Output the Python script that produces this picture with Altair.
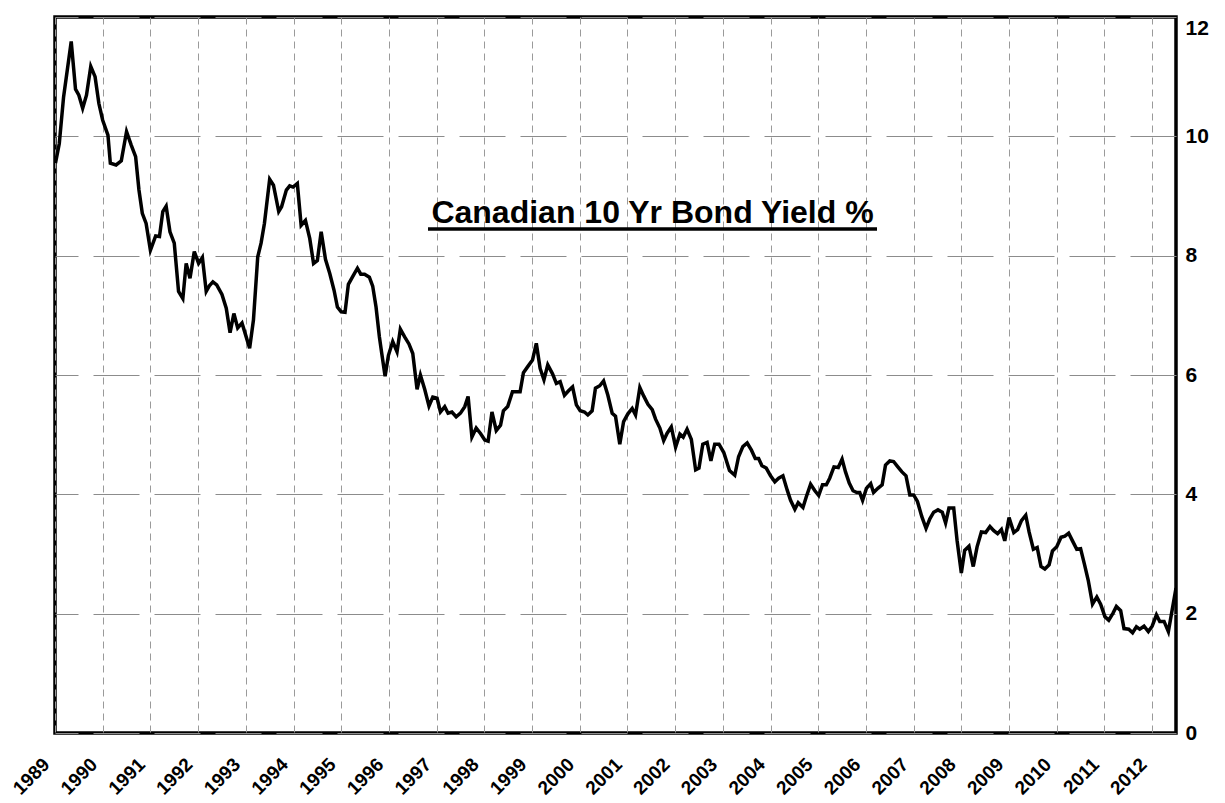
import altair as alt
import pandas as pd

dates = [
    1989.01, 1989.09, 1989.18, 1989.34, 1989.43, 1989.50, 1989.58, 1989.66, 1989.75, 1989.84, 1989.92,
    1990.00, 1990.11, 1990.16, 1990.28, 1990.39, 1990.50, 1990.60, 1990.69, 1990.76, 1990.83, 1990.91,
    1991.00, 1991.11, 1991.19, 1991.26, 1991.33, 1991.41, 1991.50, 1991.59, 1991.68, 1991.75, 1991.83, 1991.92,
    1992.01, 1992.09, 1992.17, 1992.24, 1992.31, 1992.39, 1992.50, 1992.59, 1992.67, 1992.75, 1992.83, 1992.92,
    1993.00, 1993.08, 1993.16, 1993.25, 1993.32, 1993.39, 1993.50, 1993.58, 1993.69, 1993.75, 1993.85, 1993.92, 1993.99,
    1994.08, 1994.16, 1994.25, 1994.34, 1994.42, 1994.50, 1994.58, 1994.67, 1994.76, 1994.85, 1994.92,
    1995.00, 1995.08, 1995.15, 1995.24, 1995.34, 1995.41, 1995.49, 1995.59, 1995.66, 1995.73, 1995.80, 1995.85, 1995.92, 1995.99,
    1996.08, 1996.17, 1996.24, 1996.33, 1996.42, 1996.50, 1996.59, 1996.66, 1996.75, 1996.84, 1996.92,
    1997.01, 1997.08, 1997.17, 1997.24, 1997.32, 1997.41, 1997.50, 1997.59, 1997.66, 1997.74, 1997.83, 1997.92,
    1998.01, 1998.08, 1998.16, 1998.25, 1998.34, 1998.40, 1998.49, 1998.59, 1998.67, 1998.75, 1998.82, 1998.91,
    1999.01, 1999.09, 1999.17, 1999.25, 1999.33, 1999.43, 1999.51, 1999.59, 1999.68, 1999.77, 1999.85, 1999.93,
    2000.01, 2000.10, 2000.17, 2000.26, 2000.33, 2000.42, 2000.50, 2000.59, 2000.68, 2000.75, 2000.84, 2000.92,
    2001.01, 2001.10, 2001.17, 2001.26, 2001.34, 2001.43, 2001.52, 2001.59, 2001.68, 2001.76, 2001.83, 2001.92,
    2002.01, 2002.10, 2002.17, 2002.25, 2002.34, 2002.43, 2002.50, 2002.58, 2002.67, 2002.75, 2002.83, 2002.92,
    2003.02, 2003.14, 2003.25, 2003.33, 2003.42, 2003.51, 2003.60, 2003.68, 2003.75, 2003.82, 2003.91,
    2004.00, 2004.09, 2004.17, 2004.26, 2004.35, 2004.42, 2004.51, 2004.58, 2004.68, 2004.75, 2004.84, 2004.93,
    2005.01, 2005.09, 2005.17, 2005.24, 2005.33, 2005.42, 2005.50, 2005.57, 2005.65, 2005.73, 2005.81, 2005.87, 2005.93,
    2006.01, 2006.10, 2006.16, 2006.25, 2006.34, 2006.41, 2006.50, 2006.58, 2006.66, 2006.75, 2006.84, 2006.92,
    2007.00, 2007.08, 2007.17, 2007.26, 2007.34, 2007.42, 2007.51, 2007.60, 2007.67, 2007.74, 2007.84, 2007.91,
    2008.00, 2008.07, 2008.16, 2008.25, 2008.33, 2008.42, 2008.51, 2008.60, 2008.68, 2008.76, 2008.84, 2008.91,
    2009.00, 2009.10, 2009.18, 2009.26, 2009.35, 2009.42, 2009.51, 2009.59, 2009.67, 2009.75, 2009.84, 2009.91,
    2010.00, 2010.09, 2010.17, 2010.25, 2010.33, 2010.42, 2010.50, 2010.58, 2010.66, 2010.75, 2010.84, 2010.92,
    2011.01, 2011.09, 2011.18, 2011.25, 2011.34, 2011.41, 2011.51, 2011.59, 2011.67, 2011.74, 2011.83, 2011.92,
    2012.00, 2012.09, 2012.16, 2012.25, 2012.34, 2012.50,
]

# Canadian 10-year bond yield, %
yields = [
    9.55, 9.88, 10.66, 11.59, 10.79, 10.69, 10.47, 10.69, 11.17, 11.00, 10.55,
    10.27, 10.02, 9.55, 9.52, 9.59, 10.08, 9.85, 9.66, 9.10, 8.71, 8.54,
    8.09, 8.33, 8.32, 8.74, 8.83, 8.40, 8.21, 7.40, 7.28, 7.87, 7.62, 8.07,
    7.87, 7.97, 7.40, 7.50, 7.56, 7.51, 7.35, 7.12, 6.71, 7.03, 6.79, 6.87,
    6.66, 6.45, 6.92, 7.98, 8.21, 8.54, 9.28, 9.18, 8.74, 8.82, 9.10, 9.17, 9.15,
    9.21, 8.51, 8.59, 8.29, 7.87, 7.92, 8.40, 7.94, 7.70, 7.42, 7.14,
    7.06, 7.05, 7.52, 7.65, 7.79, 7.69, 7.69, 7.64, 7.49, 7.14, 6.64, 6.36, 5.98, 6.33,
    6.56, 6.39, 6.77, 6.64, 6.52, 6.36, 5.76, 6.00, 5.76, 5.48, 5.63,
    5.61, 5.38, 5.47, 5.36, 5.38, 5.30, 5.36, 5.47, 5.64, 4.96, 5.11, 5.02,
    4.91, 4.89, 5.38, 5.07, 5.16, 5.40, 5.47, 5.72, 5.72, 5.72, 6.04, 6.14,
    6.25, 6.53, 6.11, 5.92, 6.17, 6.02, 5.86, 5.89, 5.66, 5.74, 5.80, 5.50,
    5.40, 5.38, 5.33, 5.40, 5.78, 5.82, 5.90, 5.66, 5.36, 5.31, 4.84, 5.22,
    5.35, 5.44, 5.33, 5.79, 5.65, 5.51, 5.42, 5.26, 5.11, 4.90, 5.02, 5.13,
    4.79, 5.01, 4.96, 5.09, 4.92, 4.41, 4.44, 4.84, 4.87, 4.56, 4.84, 4.84,
    4.70, 4.40, 4.32, 4.63, 4.80, 4.86, 4.74, 4.60, 4.60, 4.48, 4.44,
    4.31, 4.21, 4.27, 4.31, 4.07, 3.90, 3.75, 3.86, 3.78, 3.96, 4.17, 4.06,
    3.98, 4.16, 4.16, 4.27, 4.46, 4.45, 4.59, 4.38, 4.19, 4.06, 4.03, 4.03, 3.90,
    4.10, 4.18, 4.03, 4.10, 4.16, 4.49, 4.56, 4.55, 4.47, 4.38, 4.31, 3.99,
    3.99, 3.88, 3.63, 3.43, 3.59, 3.70, 3.74, 3.70, 3.52, 3.77, 3.77, 3.23,
    2.68, 3.06, 3.13, 2.79, 3.12, 3.37, 3.36, 3.46, 3.39, 3.34, 3.41, 3.22,
    3.61, 3.36, 3.41, 3.56, 3.65, 3.37, 3.08, 3.11, 2.79, 2.75, 2.82, 3.05,
    3.12, 3.28, 3.30, 3.35, 3.22, 3.08, 3.09, 2.83, 2.56, 2.16, 2.28, 2.16,
    1.95, 1.89, 2.01, 2.12, 2.05, 1.75, 1.74, 1.68, 1.78, 1.74, 1.79, 1.70,
    1.79, 1.98, 1.87, 1.87, 1.70, 2.43,
]

year_ticks = list(range(1989, 2013))
yield_ticks = [0, 2, 4, 6, 8, 10, 12]
title_text = "Canadian 10 Yr Bond Yield %"

FONT = "Liberation Sans"

df = pd.DataFrame({"t": dates, "y": yields})

x_enc = alt.X(
    "t:Q",
    scale=alt.Scale(domain=[1989, 2012.5], nice=False, zero=False),
    axis=alt.Axis(
        values=year_ticks, format="d", title=None,
        labelAngle=-45, labelAlign="right", labelBaseline="middle",
        labelPadding=28, labelOffset=-9,
        labelFont=FONT, labelFontSize=19, labelFontWeight="bold",
        labelColor="black", labelOverlap=False, labelFlush=False,
        ticks=False, domain=False,
        grid=True, gridDash=[7, 5], gridColor="#9a9a9a", gridWidth=1,
    ),
)

y_enc = alt.Y(
    "y:Q",
    scale=alt.Scale(domain=[0, 12], nice=False, zero=True),
    axis=alt.Axis(
        orient="right", values=yield_ticks, title=None,
        labelPadding=9, labelFont=FONT, labelFontSize=21, labelFontWeight="bold",
        labelColor="black", labelFlush=False,
        labelBaseline={"condition": {"test": "datum.value == 12", "value": "top"}, "value": "middle"},
        ticks=False, domain=False,
        grid=True, gridDash=[46, 15], gridColor="#8c8c8c", gridWidth=1,
    ),
)

line = alt.Chart(df).mark_line(color="black", strokeWidth=3.5, clip=True).encode(x=x_enc, y=y_enc)

title = alt.Chart(pd.DataFrame({"label": [title_text]})).mark_text(
    font=FONT, fontSize=32, fontWeight="bold", color="black",
    align="center", baseline="alphabetic",
).encode(x=alt.value(597.5), y=alt.value(206), text="label:N")

underline = alt.Chart(pd.DataFrame({"a": [0]})).mark_rule(
    color="black", strokeWidth=3.5
).encode(x=alt.value(373), x2=alt.value(822), y=alt.value(212))

chart = alt.layer(line, title, underline).properties(
    width=1121,
    height=716,
    autosize=alt.AutoSizeParams(type="none"),
    padding={"left": 47, "top": 9, "right": 40, "bottom": 70},
    background="white",
).configure_view(stroke="black", strokeWidth=3.5)

chart.save("out.html", embed_options={"renderer": "svg", "actions": False})
